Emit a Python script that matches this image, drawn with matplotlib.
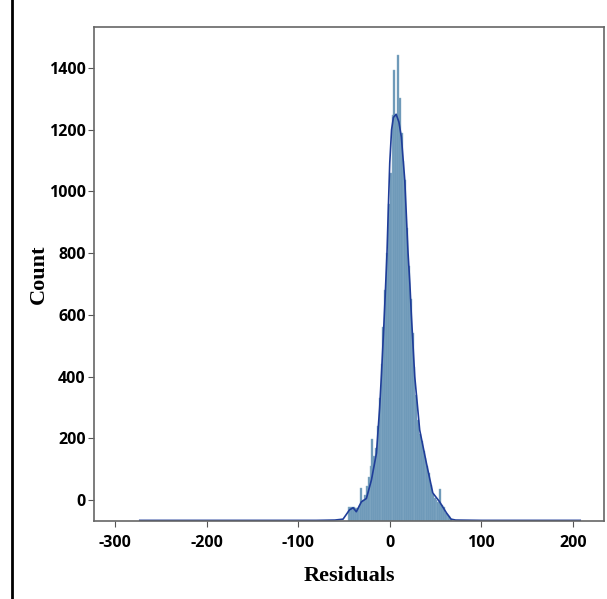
import matplotlib.pyplot as plt
import matplotlib.patches as mpatches
import numpy as np

plt.rcParams['axes.unicode_minus'] = False

# histogram bins (width 2) and bar tops read in the axis' own label units
bin_width = 2.0
bin_centers = np.arange(-45, 68, 2)
bar_tops = [-23, -23, -22, -24, -26, -27, -15, 39, 0, 15, 45, 75, 110, 198, 143,
            170, 240, 330, 440, 560, 680, 800, 960, 1060, 1248, 1393, 1250, 1442,
            1303, 1190, 1100, 1037, 880, 760, 650, 540, 430, 340, 260, 215, 190,
            160, 135, 110, 87, 50, 18, 5, 0, -5, 36, -16, -22, -42, -45, -52, -62]

# smoothed density curve, same units
kde_x = [-273, -150, -80, -60, -51, -47, -44, -40, -36.5, -31, -25.5, -20, -14.5,
         -11, -9, -7, -5, -3, -1.5, 0, 2, 4, 7, 10, 12.7, 16.4, 20, 22, 23.6,
         27.3, 32.7, 40, 47, 54.5, 62, 67, 72, 100, 208]
kde_y = [-66, -66, -66, -65, -62, -45, -32, -25, -38, -6, 5, 65, 152,
         300, 410, 530, 660, 800, 950, 1092, 1200, 1240, 1250, 1225, 1176, 1037, 800, 700, 600,
         400, 227, 120, 23, -6, -42, -62, -65, -66, -66]

base = -68
xticks = [-300, -200, -100, 0, 100, 200]
yticks = [0, 200, 400, 600, 800, 1000, 1200, 1400]

fig = plt.figure(figsize=(6.07, 5.99), dpi=100)
ax = fig.add_axes([94/607, 1-521/599, (604-94)/607, (521-27)/599])

heights = np.array(bar_tops) - base
ax.bar(bin_centers, heights, width=bin_width, bottom=base, color='#6895b5',
       edgecolor='#8db0c9', linewidth=0.3, align='center')
ax.plot(kde_x, kde_y, color='#1f3d99', linewidth=1.2)

ax.set_xlim(-323, 234)
ax.set_ylim(base, 1533)
ax.set_xticks(xticks)
ax.set_yticks(yticks)
for lab in ax.get_xticklabels() + ax.get_yticklabels():
    lab.set_fontfamily('Open Sans')
    lab.set_fontweight('bold')
    lab.set_fontsize(11.5)
ax.tick_params(axis='y', length=4, width=0.8, color='#555555', pad=2)
ax.tick_params(axis='x', length=4, width=0.8, color='#555555', pad=6)
for s in ax.spines.values():
    s.set_color('#666666')
    s.set_linewidth(1.2)

ax.set_xlabel('Residuals', fontfamily='Liberation Serif', fontweight='bold',
              fontsize=16, labelpad=11)
ax.set_ylabel('Count', fontfamily='Liberation Serif', fontweight='bold',
              fontsize=16, labelpad=0)

# outer frame (cut off at right and bottom)
fig.add_artist(mpatches.Rectangle((12/607, -0.2), 1.2, 1.2 + 1-11/599,
               transform=fig.transFigure, fill=False, edgecolor='black', linewidth=2))

fig.savefig('out.png', dpi=100)
